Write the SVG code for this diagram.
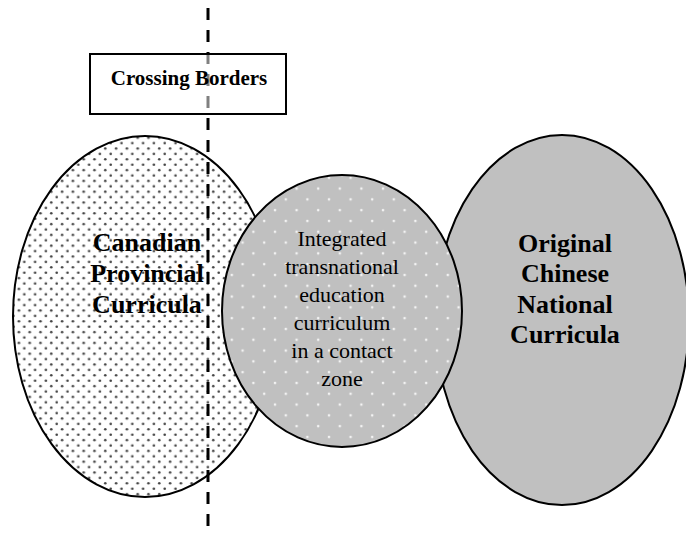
<svg xmlns="http://www.w3.org/2000/svg" width="686" height="533" viewBox="0 0 686 533">
<style>
.shape{stroke:#000;stroke-width:2}
.b{font-family:"Liberation Serif","Times New Roman",serif;font-weight:bold;font-size:26px;text-anchor:middle;fill:#000}
.r{font-family:"Liberation Serif","Times New Roman",serif;font-size:22px;text-anchor:middle;fill:#000}
</style>
<defs>
<pattern id="darkDots" patternUnits="userSpaceOnUse" width="10.8" height="10.8">
<rect width="10.8" height="10.8" fill="#fff"/>
<circle cx="2.7" cy="2.7" r="1.3" fill="#444"/>
<circle cx="8.1" cy="8.1" r="1.3" fill="#444"/>
</pattern>
<pattern id="whiteDots" patternUnits="userSpaceOnUse" width="21.6" height="21.6">
<rect width="21.6" height="21.6" fill="#c0c0c0"/>
<circle cx="5" cy="5" r="1.3" fill="#f4f4f4"/>
<circle cx="15.8" cy="15.8" r="1.3" fill="#f4f4f4"/>
</pattern>
</defs>
<g id="canadian">
<ellipse class="shape" cx="145" cy="316.5" rx="132" ry="180.5" fill="url(#darkDots)"/>
<text class="b" x="147" y="251">Canadian</text>
<text class="b" x="147" y="282">Provincial</text>
<text class="b" x="147" y="313">Curricula</text>
</g>
<g id="chinese">
<ellipse class="shape" cx="562" cy="320" rx="127" ry="185" fill="#c0c0c0"/>
<text class="b" x="565" y="252">Original</text>
<text class="b" x="565" y="282">Chinese</text>
<text class="b" x="565" y="313">National</text>
<text class="b" x="565" y="343">Curricula</text>
</g>
<g id="integrated">
<ellipse class="shape" cx="342" cy="311" rx="120" ry="136" fill="url(#whiteDots)"/>
<text class="r" x="342" y="246">Integrated</text>
<text class="r" x="342" y="274">transnational</text>
<text class="r" x="342" y="302">education</text>
<text class="r" x="342" y="330">curriculum</text>
<text class="r" x="342" y="358">in a contact</text>
<text class="r" x="342" y="386">zone</text>
</g>
<g id="connectors">
<line x1="208" y1="8" x2="208" y2="533" stroke="#000" stroke-width="3" stroke-dasharray="12 10"/>
</g>
<g id="crossing-borders">
<rect class="shape" x="90" y="54" width="196" height="60" fill="#fff" fill-opacity="0.5"/>
<text class="b" x="189" y="85" style="font-size:21px">Crossing Borders</text>
</g>
</svg>
